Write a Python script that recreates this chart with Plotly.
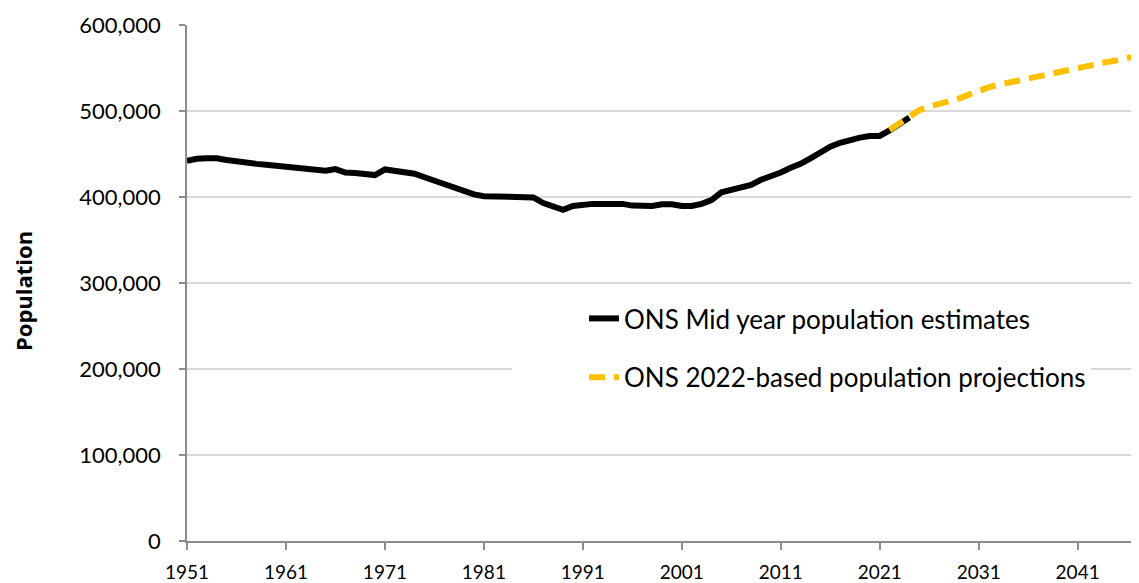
import plotly.graph_objects as go

# ONS mid-year population estimates
est_years = list(range(1951, 2025))
est_values = [
    442000, 444500, 445000, 445000, 443000, 441000, 440000, 438500, 437500, 436500,
    435500, 434500, 434000, 432000, 430500, 432500, 428500, 428000, 427500, 425500,
    432000, 430000, 428500, 427000, 423000, 419000, 415000, 411000, 406500, 403000,
    401000, 401000, 401000, 401000, 400000, 399500, 393000, 389000, 385000, 389500,
    391500, 392000, 392000, 392000, 392000, 390000, 389500, 389500, 391500, 391500,
    389500, 389500, 392000, 396500, 405500, 408000, 411500, 414000, 420000, 424000,
    428500, 434000, 438500, 445000, 452500, 458500, 463000, 466500, 469000, 471000,
    471000, 477500, 485500, 492500,
]

# ONS 2022-based projections
proj_years = list(range(2022, 2048))
proj_values = [
    478000, 486000, 494000, 501000, 505000, 508000, 511000, 514500, 519000, 523500,
    527500, 530500, 533000, 535500, 538000, 540000, 543000, 546000, 548500, 550000,
    552000, 554500, 557000, 559000, 561500, 564000,
]

x_ticks = list(range(1951, 2042, 10))
y_ticks = list(range(0, 600001, 100000))

font = "Lato, 'Open Sans', sans-serif"

# page body has an 8px margin, so the figure is 8px smaller than the window
W, H = 1131, 575
L, T, B = 179, 17, 42
plot_w = W - L
plot_h = H - T - B

fig = go.Figure()
fig.add_trace(go.Scatter(
    x=est_years, y=est_values, mode="lines",
    name="ONS Mid year population estimates",
    line=dict(color="black", width=6),
    legendgroup="a",
))
fig.add_trace(go.Scatter(
    x=proj_years, y=proj_values, mode="lines",
    name="ONS 2022-based population projections",
    line=dict(color="#FFC000", width=6, dash="16px,9px"),
    legendgroup="b",
))

fig.update_layout(
    width=W, height=H,
    margin=dict(l=L, r=0, t=T, b=B, autoexpand=False),
    plot_bgcolor="white", paper_bgcolor="white",
    font=dict(family=font, color="black"),
    showlegend=True,
    legend=dict(
        x=(504 - L) / plot_w, y=(533 - 287) / plot_h,
        xanchor="left", yanchor="top",
        bgcolor="white", borderwidth=0,
        font=dict(size=26, family=font),
        tracegroupgap=22, indentation=72,
        traceorder="grouped",
    ),
    annotations=[dict(
        text="<b>Population</b>", textangle=-90,
        xref="paper", yref="paper",
        x=-(L - 15) / plot_w, y=(533 - 283) / plot_h,
        xanchor="center", yanchor="middle", showarrow=False,
        font=dict(size=22, family="'Open Sans', sans-serif", color="black"),
    )],
)

fig.update_xaxes(
    range=[1951, 2047.2], tickvals=x_ticks,
    showgrid=False, showline=True, linecolor="#8c8c8c", linewidth=1.5,
    ticks="outside", ticklen=7, tickcolor="#8c8c8c", tickwidth=1.5,
    tickfont=dict(size=19, family=font), ticklabelstandoff=6,
    zeroline=False,
)
fig.update_yaxes(
    range=[0, 600000], tickvals=y_ticks, tickformat=",",
    showgrid=True, gridcolor="#d9d9d9", gridwidth=1.5,
    showline=True, linecolor="#8c8c8c", linewidth=1.5,
    ticks="outside", ticklen=6, tickcolor="#8c8c8c", tickwidth=1.5,
    tickfont=dict(size=22, family=font), ticklabelstandoff=14,
    zeroline=False,
)

fig.write_html("out.html")
